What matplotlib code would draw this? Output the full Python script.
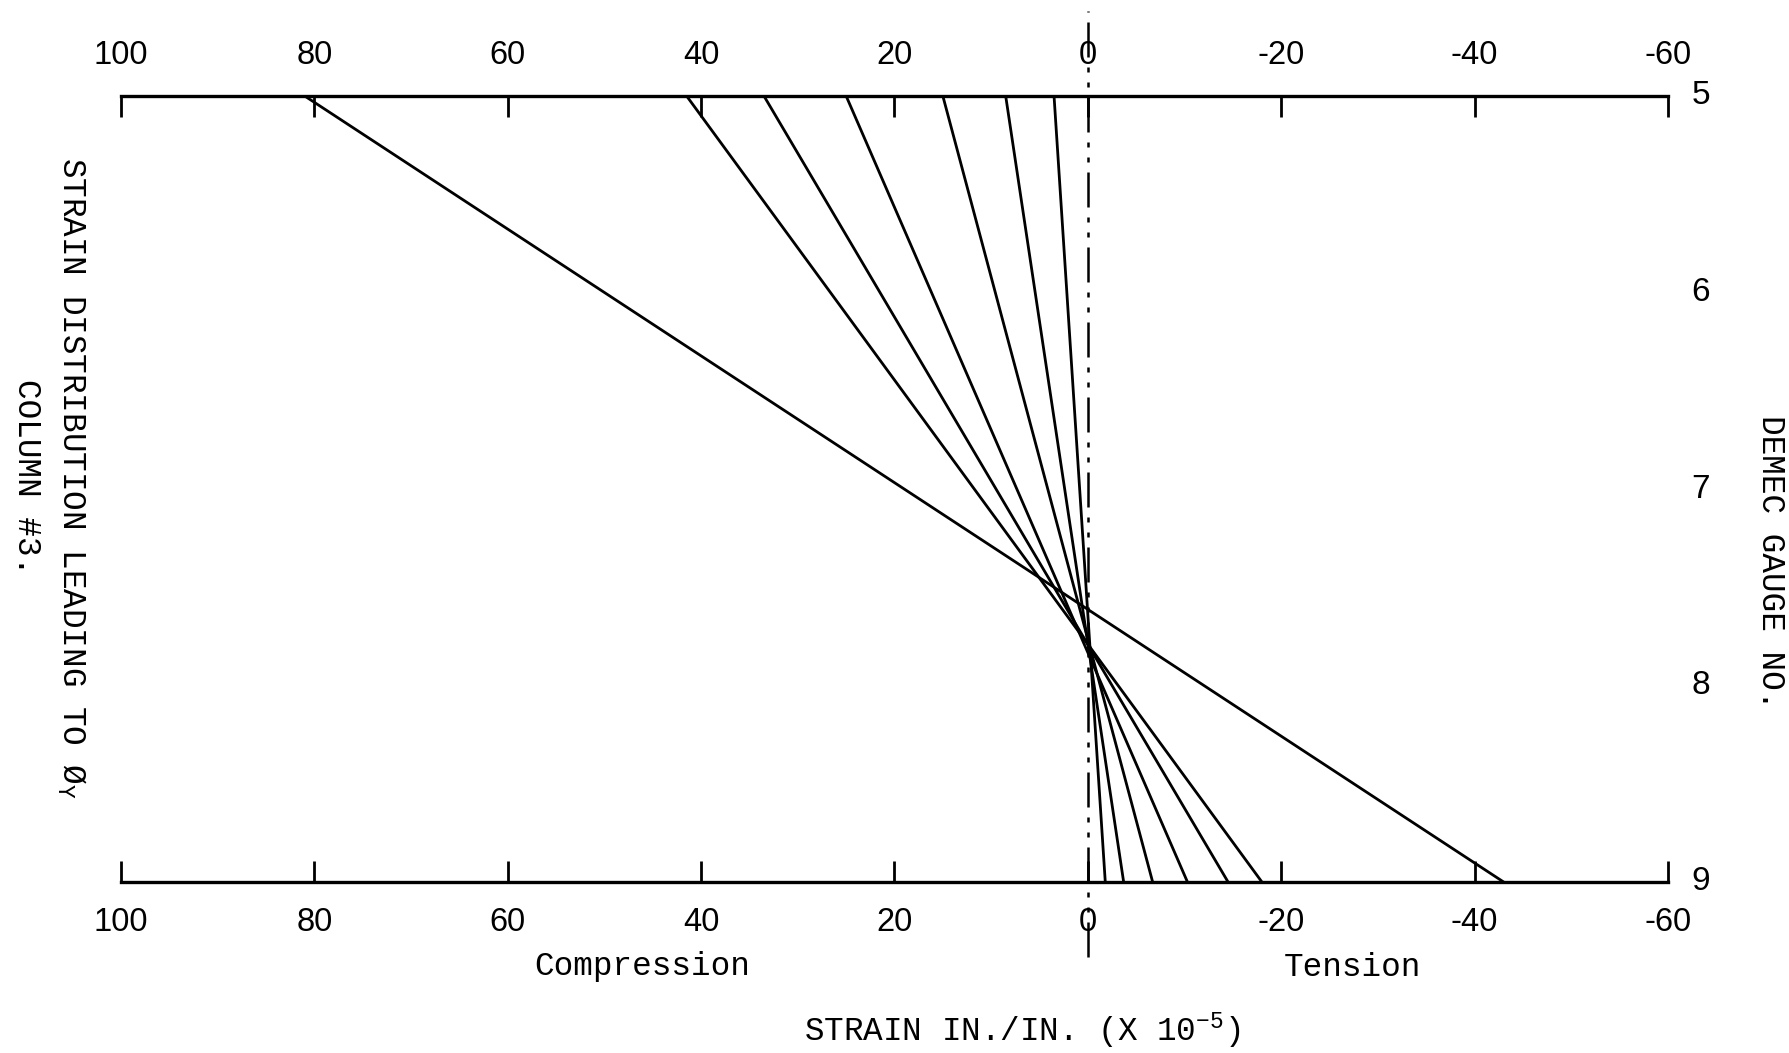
import matplotlib
matplotlib.use("Agg")
import matplotlib.pyplot as plt
import matplotlib.transforms as mtransforms

# ---- data ----
gauges = [5, 6, 7, 8, 9]
strain_ticks = [100, 80, 60, 40, 20, 0, -20, -40, -60]
strain_tick_labels = ["100", "80", "60", "40", "20", "0", "-20", "-40", "-60"]
# strain (x 10^-5) at gauge 5 (top) and gauge 9 (bottom) for each load stage
strain_at_gauge5 = [81.0, 41.5, 33.5, 25.0, 15.0, 8.5, 3.5]
strain_at_gauge9 = [-43.0, -18.0, -14.5, -10.3, -6.7, -3.7, -1.8]

W, H = 1790, 1053
plt.rcParams["mathtext.fontset"] = "custom"
plt.rcParams["mathtext.rm"] = "Liberation Mono"
plt.rcParams["mathtext.default"] = "rm"
plt.rcParams["axes.unicode_minus"] = False

fig = plt.figure(figsize=(W / 100, H / 100), dpi=100)
fig.patch.set_facecolor("white")

left_px, right_px, top_px, bot_px = 121, 1668, 96, 882
ax = fig.add_axes([left_px / W, 1 - bot_px / H, (right_px - left_px) / W, (bot_px - top_px) / H])
ax.set_xlim(100, -60)
ax.set_ylim(9, 5)
ax.set_facecolor("white")

for s in ("left", "right"):
    ax.spines[s].set_visible(False)
for s in ("top", "bottom"):
    ax.spines[s].set_linewidth(2.4)
    ax.spines[s].set_color("black")

tick_font = dict(fontfamily="Liberation Sans", fontsize=23.5)
ax.set_xticks(strain_ticks)
ax.set_xticklabels(strain_tick_labels, **tick_font)
ax.tick_params(axis="x", which="both", direction="in", top=True, bottom=True,
               labeltop=True, labelbottom=True, length=15, width=2.0, color="black", pad=18)
for t in ax.xaxis.get_major_ticks():
    t.label2.set_fontfamily("Liberation Sans")
    t.label2.set_fontsize(23.5)
ax.set_yticks([])

# strain distribution lines
for a, b in zip(strain_at_gauge5, strain_at_gauge9):
    ax.plot([a, b], [gauges[0], gauges[-1]], color="black", lw=2.0, solid_capstyle="round")

# zero reference line (dash-dot-dot)
ax.axvline(0, ymin=-0.095, ymax=1.108, color="black", lw=1.8,
           linestyle=(0, (14, 4, 2, 4, 2, 4)), clip_on=False)

# gauge numbers on the right
trans = mtransforms.blended_transform_factory(ax.transAxes, ax.transData)
for g in gauges:
    ax.text(1.021, g, str(g), transform=trans, ha="center", va="center",
            fontfamily="Liberation Sans", fontsize=24)

mono = "Liberation Mono"
fs = 23.5
fig.text(642 / W, 1 - 967 / H, "Compression", ha="center", va="center", fontfamily=mono, fontsize=fs)
fig.text(1352 / W, 1 - 967 / H, "Tension", ha="center", va="center", fontfamily=mono, fontsize=fs)
fig.text(1022 / W, 1 - 1031 / H, r"STRAIN IN./IN. (X 10$^{-5}$)", ha="center", va="center",
         fontfamily=mono, fontsize=fs)
fig.text(71 / W, 1 - 478 / H, r"STRAIN DISTRIBUTION LEADING TO Ø$_{Y}$", ha="center", va="center",
         rotation=270, fontfamily=mono, fontsize=fs)
fig.text(26 / W, 1 - 477 / H, "COLUMN #3.", ha="center", va="center",
         rotation=270, fontfamily=mono, fontsize=fs)
fig.text(1771 / W, 1 - 562 / H, "DEMEC GAUGE NO.", ha="center", va="center",
         rotation=270, fontfamily=mono, fontsize=fs)

fig.savefig("out.png", dpi=100, facecolor="white")
